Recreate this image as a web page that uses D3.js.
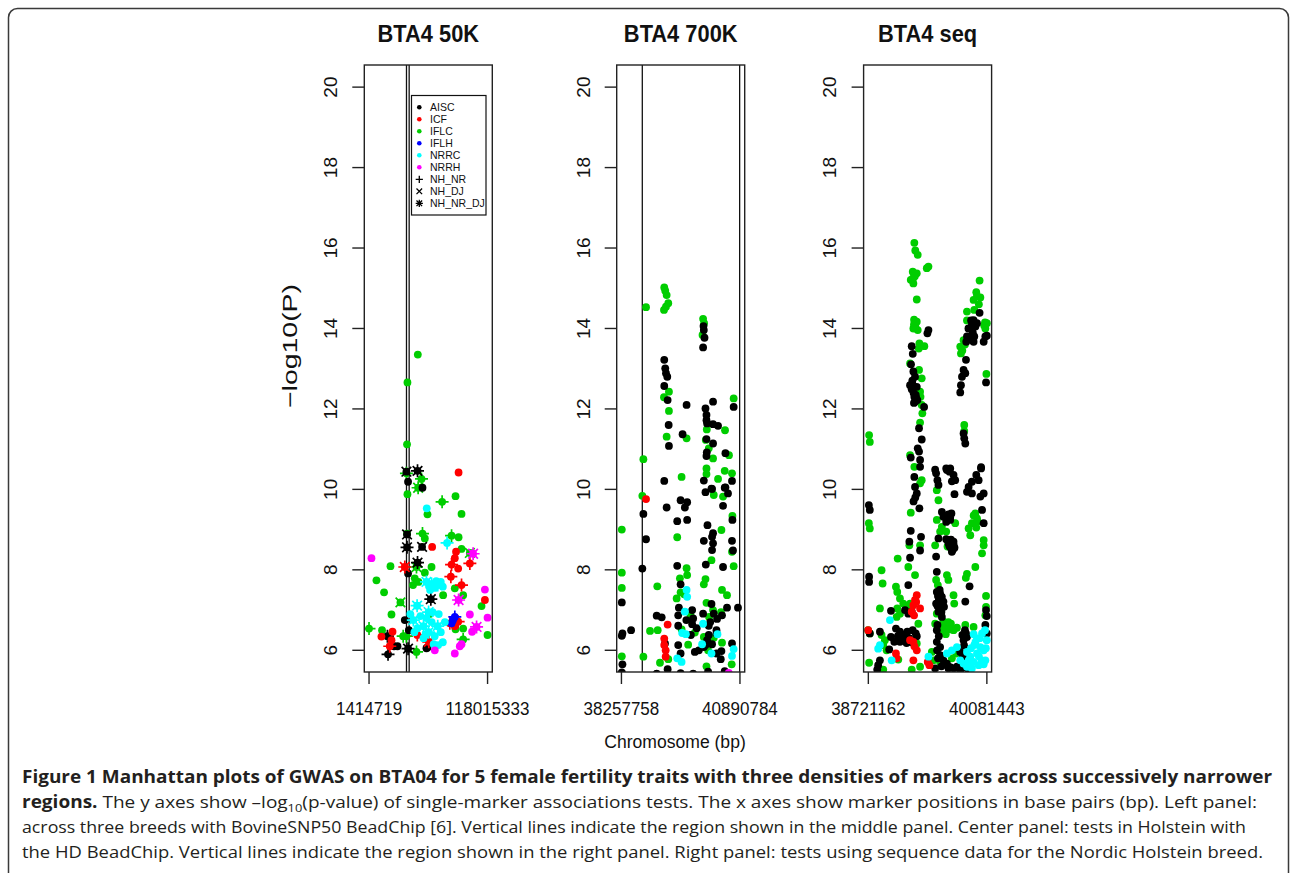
<!DOCTYPE html>
<html>
<head>
<meta charset="utf-8">
<style>
  body { margin: 0; background: white; }
  svg { display: block; }
  .rtext { font-family: "Liberation Sans", Arial, sans-serif; fill: #111; }
  .caption { font-family: "Open Sans", sans-serif; font-size: 17px; fill: #231f20; }
</style>
</head>
<body>
<div id="chart"></div>
<script src="https://d3js.org/d3.v7.min.js"></script>
<script>
var W = 1290, H = 873;

var traits = ["AISC", "ICF", "IFLC", "IFLH", "NRRC", "NRRH"];
var traitColours = ["#000000", "#ff0000", "#00cd00", "#0000ff", "#00ffff", "#ff00ff"];
var breedSets = ["NH_NR", "NH_DJ", "NH_NR_DJ"];
var breedSymbols = ["+", "x", "*"];
var drawOrder = ["IFLC", "AISC", "ICF", "IFLH", "NRRC", "NRRH"];

var panelTitles = ["BTA4 50K", "BTA4 700K", "BTA4 seq"];
var xTickLabels50k = [1414719, 118015333];
var xTickLabels700k = [38257758, 40890784];
var xTickLabelsSeq = [38721162, 40081443];
var regionLines50k = [38257758, 40890784];
var regionLines700k = [38721162, 40884000];
var yTicks = [6, 8, 10, 12, 14, 16, 18, 20];

// 50K panel: [position Mb, -log10(P), breed symbol] ("." = no breed symbol)
var p50k_AISC = [[38.2,10.44,"x"],[49.1,10.46,"*"],[39.8,10.19,"."],[54.0,10.04,"."],[38.8,8.88,"x"],[38.8,8.56,"*"],
  [53.6,8.57,"x"],[49.1,8.18,"*"],[39.8,7.91,"."],[62.2,7.27,"*"],[39.8,6.04,"*"],[19.5,6.35,"+"],[20.1,5.90,"+"],
  [29.4,6.10,"."],[58.9,6.07,"."],[40.6,6.50,"."],[36.6,6.75,"."],[26.0,6.10,"."],[57.9,6.05,"."]];
var p50k_ICF = [[89.5,10.42,"."],[63.5,8.57,"."],[85.8,8.29,"."],[36.6,8.07,"*"],[82.6,8.13,"+"],[100.6,8.16,"+"],
  [89.1,8.03,"."],[81.9,7.83,"+"],[92.4,7.62,"+"],[115.4,7.25,"."],[89.1,6.71,"+"],[13.6,6.34,"."],[24.5,6.46,"."],
  [23.5,6.25,"."],[21.8,6.10,"+"],[60.2,6.21,"*"],[48.9,6.38,"+"],[80.9,6.67,"+"],[85.8,6.60,"."],[87.0,8.45,"."]];
var p50k_IFLC = [[49.4,13.35,"."],[39.2,12.66,"."],[38.8,11.12,"."],[38.2,10.40,"+"],[53.0,10.26,"+"],[49.7,10.04,"*"],
  [39.2,9.88,"."],[86.5,9.83,"."],[73.3,9.69,"+"],[58.9,9.38,"."],[92.4,9.39,"."],[38.8,8.90,"."],[54.0,8.90,"+"],
  [56.3,8.78,"."],[82.6,8.85,"+"],[89.5,8.81,"."],[92.4,8.52,"."],[100.6,8.42,"x"],[22.5,8.09,"."],[62.9,8.07,"."],
  [48.1,8.07,"*"],[56.3,7.93,"."],[8.7,7.74,"."],[46.4,7.79,"."],[44.7,7.62,"."],[85.8,7.54,"."],[16.2,7.44,"."],
  [74.3,7.37,"."],[94.0,7.37,"."],[112.1,7.10,"."],[32.3,7.19,"x"],[23.5,6.89,"."],[94.0,6.54,"."],[118.0,6.38,"."],
  [1.4,6.54,"+"],[14.2,6.50,"."],[38.2,6.35,"+"],[48.1,5.96,"+"],[94.0,6.27,"+"],[86.5,6.52,"."],[35.0,6.35,"+"],
  [50.0,7.70,"."],[61.0,6.90,"."]];
var p50k_IFLH = [[85.8,6.83,"+"],[82.6,6.67,"."],[84.0,6.75,"."]];
var p50k_NRRC = [[58.2,9.53,"."],[78.2,8.67,"+"],[57.9,7.70,"*"],[60.5,7.60,"."],[63.0,7.65,"*"],[66.0,7.55,"."],
  [69.0,7.62,"*"],[72.0,7.70,"."],[74.0,7.58,"."],[48.7,7.11,"*"],[42.0,6.90,"."],[45.0,6.75,"*"],[49.0,6.55,"."],
  [52.0,6.85,"."],[55.0,6.60,"*"],[58.0,6.80,"."],[60.0,6.45,"*"],[63.0,6.70,"."],[66.0,6.35,"."],[69.0,6.60,"*"],
  [70.0,6.90,"."],[72.0,6.45,"."],[74.0,6.20,"."],[76.0,6.70,"."],[65.0,6.15,"."],[55.0,6.30,"."],[60.0,6.95,"*"],
  [46.0,6.45,"."],[69.4,6.13,"."],[61.5,7.50,"."],[67.5,7.72,"."],[64.0,6.95,"."],[57.0,6.40,"."]];
var p50k_NRRH = [[3.8,8.29,"."],[103.8,8.40,"*"],[89.5,7.25,"*"],[115.4,7.51,"."],[100.6,6.89,"."],[118.0,6.81,"."],
  [107.2,6.58,"*"],[102.8,6.46,"."],[66.1,6.00,"."],[85.8,5.92,"."],[90.7,6.10,"."],[92.4,6.15,"."]];

// 700K panel: [position Mb, -log10(P)]
var p700k_AISC = [[39.209,13.22],[39.231,13.01],[39.247,12.89],[39.276,12.80],[39.209,12.57],[39.284,12.22],
  [40.081,14.06],[40.088,13.96],[40.103,13.77],[40.072,13.53],[39.705,12.10],[40.293,12.18],[40.125,12.01],
  [40.147,11.85],[40.147,11.72],[40.161,11.64],[40.293,11.62],[40.404,11.58],[40.751,12.05],[39.307,11.60],
  [39.616,11.37],[39.313,11.08],[40.147,11.25],[40.293,11.14],[40.154,10.92],[40.147,10.83],[40.568,10.90],
  [39.209,10.21],[40.088,10.22],[40.714,10.21],[40.258,10.02],[40.552,10.04],[40.125,9.93],[40.271,10.01],
  [40.568,10.05],[40.625,9.90],[39.572,9.73],[39.718,9.68],[39.667,9.55],[39.262,9.55],[40.515,9.59],
  [38.745,9.39],[40.723,9.24],[39.497,9.21],[39.718,9.24],[40.169,9.11],[40.293,8.91],[40.271,8.82],
  [40.088,8.72],[40.293,8.66],[40.271,8.49],[38.804,8.76],[40.714,8.72],[40.736,8.48],[40.132,8.13],
  [39.497,8.10],[40.515,8.07],[38.722,8.03],[39.572,7.64],[38.266,7.19],[40.258,7.15],[39.534,7.06],
  [39.829,7.00],[40.847,7.06],[40.603,7.06],[39.041,6.86],[39.152,6.82],[39.519,6.87],[40.072,6.91],
  [40.309,6.91],[40.492,6.87],[39.851,6.79],[40.382,6.78],[39.829,6.65],[40.198,6.61],[38.472,6.50],
  [38.280,6.42],[38.266,6.36],[39.519,6.61],[40.369,6.50],[40.369,6.42],[39.800,6.38],[40.198,6.38],
  [39.225,6.17],[39.519,6.13],[40.125,6.13],[40.271,6.15],[40.714,6.17],[39.888,5.96],[39.977,6.00],
  [40.088,6.08],[39.572,5.92],[40.369,5.92],[40.479,5.98],[40.464,5.78],[38.280,5.65],[39.284,5.53],
  [38.266,5.45],[39.041,5.42],[39.572,5.43],[39.851,5.42],[40.183,5.47],[40.552,5.48],[40.160,6.25],
  [40.230,6.70],[39.930,6.55],[39.700,6.75]];
var p700k_ICF = [[38.804,9.76],[39.284,6.64],[39.209,6.29],[39.209,6.13],[39.240,6.00],[39.240,5.84]];
var p700k_IFLC = [[39.209,15.02],[39.231,14.94],[39.262,14.83],[39.298,14.63],[39.247,14.54],[39.203,14.46],
  [38.804,14.53],[40.072,14.24],[40.094,14.13],[40.059,13.84],[39.203,12.29],[39.313,12.43],[39.313,11.95],
  [40.751,12.26],[39.262,11.31],[39.705,11.27],[40.154,11.49],[40.132,11.23],[40.198,11.02],[40.293,10.77],
  [40.559,11.47],[40.647,10.85],[38.745,10.75],[40.147,10.52],[40.147,10.38],[40.552,10.46],[40.714,10.40],
  [39.594,10.31],[40.404,10.26],[40.309,9.86],[40.515,9.82],[38.722,9.84],[40.723,9.34],[38.266,9.00],
  [40.479,8.99],[39.497,8.81],[40.714,8.45],[40.258,8.24],[40.751,8.09],[39.705,8.04],[39.718,7.87],
  [39.557,7.79],[38.266,7.93],[40.125,7.77],[40.088,7.64],[39.054,7.59],[38.266,7.55],[40.492,7.50],
  [40.603,7.37],[39.484,7.29],[39.572,7.44],[39.652,7.39],[40.147,7.18],[40.293,7.00],[40.470,6.95],
  [39.793,6.87],[40.205,6.83],[38.893,6.48],[39.063,6.50],[39.594,6.52],[39.888,6.44],[40.088,6.33],
  [40.309,6.31],[39.740,6.14],[40.492,6.19],[40.183,6.00],[38.266,5.85],[38.745,5.84],[39.114,5.69],
  [39.298,5.78],[40.707,5.65],[40.147,5.60]];
var p700k_NRRC = [[39.705,7.50],[39.718,7.33],[40.072,6.66],[39.667,6.96],[39.607,6.43],[39.689,6.40],
  [40.391,6.40],[40.050,6.15],[40.751,6.03],[40.714,5.86],[40.258,5.92],[39.497,5.80],[39.594,5.71]];
var p700k_NRRH = [[40.641,5.44]];

// sequence panel: [position Mb, -log10(P)]
var pSeq_AISC = [[39.219,13.56],[39.231,13.37],[39.211,13.11],[39.238,12.93],[39.257,12.80],[39.200,12.59],
  [39.277,12.55],[39.219,12.49],[39.249,12.30],[39.284,12.22],[39.257,12.18],[39.361,12.05],[39.411,13.96],
  [39.399,13.88],[39.998,14.39],[39.929,14.21],[39.968,14.13],[39.910,14.09],[39.853,13.80],[39.937,13.80],
  [39.845,13.67],[39.929,13.67],[40.064,13.80],[40.045,13.67],[40.081,13.82],[39.842,13.22],[39.814,12.97],
  [39.834,12.89],[39.796,12.80],[39.784,12.59],[39.776,12.41],[40.072,12.66],[39.303,11.52],[39.334,11.24],
  [39.814,11.39],[39.822,11.27],[39.834,11.14],[39.288,11.02],[39.303,10.94],[39.208,10.79],[39.315,10.73],
  [39.315,10.56],[39.488,10.49],[39.615,10.52],[39.661,10.52],[40.015,10.52],[39.499,10.40],[39.514,10.23],
  [39.526,10.11],[39.623,10.48],[39.653,10.44],[39.699,10.36],[39.718,10.23],[39.680,10.20],[40.015,10.55],
  [39.960,10.36],[39.987,10.23],[39.910,10.19],[39.872,10.06],[39.853,9.94],[39.910,9.90],[40.045,9.90],
  [40.007,9.82],[39.249,10.31],[39.257,10.06],[39.277,9.90],[39.710,9.88],[38.727,9.61],[38.738,9.49],
  [39.307,9.53],[39.565,9.44],[39.583,9.32],[39.615,9.19],[39.661,9.24],[39.640,9.38],[40.026,9.49],
  [40.045,9.16],[39.208,8.97],[39.526,8.78],[39.615,8.76],[39.641,8.66],[39.661,8.56],[39.699,8.70],
  [39.680,8.45],[39.710,8.55],[39.192,8.70],[39.326,8.82],[39.315,8.48],[39.200,8.30],[39.499,8.33],
  [39.507,7.95],[38.730,7.83],[38.730,7.70],[39.883,7.59],[39.180,7.62],[39.507,7.45],[39.545,7.41],
  [39.565,7.33],[39.530,7.30],[39.583,7.21],[39.499,7.16],[39.553,7.08],[39.590,7.08],[39.834,7.21],
  [38.981,6.98],[39.142,7.00],[39.180,6.91],[39.219,6.96],[39.526,6.96],[39.565,6.83],[40.072,7.00],
  [40.080,6.85],[39.514,6.63],[39.507,6.50],[40.064,6.63],[40.080,6.42],[38.854,6.46],[39.038,6.54],
  [39.084,6.46],[39.168,6.46],[39.265,6.42],[39.277,6.35],[38.981,6.33],[39.019,6.21],[39.084,6.21],
  [39.142,6.25],[39.219,6.20],[39.842,6.42],[39.853,6.33],[39.814,6.25],[39.507,6.21],[39.545,6.08],
  [38.961,6.02],[39.776,5.96],[39.807,5.84],[39.545,5.88],[39.583,5.75],[39.623,5.67],[38.854,5.75],
  [38.834,5.63],[38.823,5.52],[39.488,5.55],[39.641,5.55],[39.738,5.59],[39.776,5.50],[38.738,6.42],
  [39.226,12.70],[39.240,12.40],[39.265,12.35],[39.231,12.60],[39.245,12.15],[39.270,12.28],
  [39.520,7.35],[39.530,7.22],[39.540,7.50],[39.515,7.10],[39.550,7.25],[39.560,6.95],
  [39.650,8.60],[39.670,8.75],[39.690,8.50],[39.660,9.30],[39.675,9.40],[39.700,8.62],
  [39.870,14.00],[39.890,13.75],[39.920,13.90],[39.950,14.05],[39.900,14.20],
  [39.100,6.30],[39.125,6.38],[39.160,6.18],[39.190,6.30],[39.060,6.35],[39.230,6.50],
  [39.510,6.00],[39.520,5.80],[39.530,6.35],[39.560,5.60],[39.600,5.65],[39.660,5.58],[39.700,5.55],
  [39.820,6.12],[39.830,6.50],[39.800,6.38],[39.855,5.55],[39.240,9.70],[39.260,9.80]];
var pSeq_ICF = [[38.719,6.50],[39.277,7.37],[39.257,7.25],[39.238,7.12],[39.315,7.04],[39.219,6.96],[39.246,6.87],
  [39.238,6.21],[39.277,6.00],[39.200,6.25],[39.038,5.92],[39.046,5.80],[39.238,5.75],[39.403,5.71],[39.422,5.63],
  [39.270,7.20],[39.250,6.10]];
var pSeq_IFLC = [[39.249,16.13],[39.260,15.94],[39.288,15.83],[39.392,15.50],[39.411,15.54],[39.231,15.41],
  [39.277,15.37],[39.208,15.21],[39.238,15.12],[39.277,14.72],[39.998,15.19],[39.968,14.81],[40.007,14.77],
  [39.929,14.71],[39.937,14.46],[39.853,14.42],[39.246,14.22],[39.277,14.17],[39.238,14.00],[39.288,13.96],
  [39.853,14.20],[40.081,14.13],[40.064,14.00],[40.050,14.08],[39.307,13.63],[39.364,13.56],[39.814,13.71],
  [39.776,13.55],[39.784,13.38],[39.200,13.13],[39.303,12.97],[39.334,12.76],[40.076,12.87],[39.315,12.43],
  [39.334,12.10],[39.341,11.89],[39.315,11.66],[38.730,11.35],[38.738,11.18],[39.822,11.60],[39.822,11.45],
  [39.249,10.56],[39.200,10.85],[39.334,10.23],[39.315,10.15],[39.507,9.98],[39.526,9.73],[38.727,9.16],
  [38.738,9.03],[39.208,9.42],[39.507,9.24],[39.565,9.07],[39.615,8.95],[39.545,8.95],[39.718,9.16],
  [39.949,9.40],[39.968,9.28],[39.910,9.16],[39.872,9.03],[39.891,8.86],[39.975,9.20],[40.045,8.74],
  [40.045,8.61],[40.026,8.41],[39.192,8.61],[39.315,8.61],[39.058,8.28],[39.488,8.61],[39.630,8.58],
  [38.873,7.99],[39.180,8.07],[39.257,7.87],[38.885,7.66],[39.038,7.58],[39.053,7.45],[39.084,7.29],
  [39.499,7.75],[39.519,7.62],[39.623,7.87],[39.640,7.75],[39.949,8.07],[39.853,7.90],[39.840,7.80],
  [39.699,7.37],[39.707,7.16],[40.072,7.35],[40.072,7.08],[40.064,6.87],[38.854,7.04],[39.053,7.04],
  [39.084,6.91],[39.122,7.16],[39.046,6.83],[39.173,7.04],[39.200,7.16],[39.507,6.91],[39.488,6.66],
  [39.583,6.71],[39.623,6.63],[39.669,6.66],[39.699,6.50],[39.738,6.56],[39.545,6.50],[39.600,6.45],
  [38.719,6.50],[38.738,6.42],[38.873,6.38],[38.911,6.25],[38.892,6.13],[38.931,6.00],[39.295,6.66],
  [39.277,6.17],[38.730,5.69],[39.834,6.63],[39.929,6.58],[39.450,5.96],[39.468,5.75],[39.545,5.70],
  [39.730,5.92],[39.680,5.80],[39.219,5.52],[39.315,5.59],[39.065,5.77],[38.892,5.52],
  [39.235,15.25],[39.255,15.30],[39.245,14.10],[39.260,14.05],[39.300,13.50],[39.320,12.30],
  [39.560,6.60],[39.590,6.55],[39.640,6.70],[39.660,6.52],[39.610,6.40],[39.530,6.55],
  [39.830,13.60],[39.800,13.45],[39.990,14.60],[39.960,14.90],[40.060,14.15],[39.930,9.35],[39.960,9.05]];
var pSeq_NRRC = [[38.969,6.75],[38.854,6.13],[38.834,6.04],[38.989,5.75],[39.411,5.84],[39.853,5.96],[39.891,5.84],
  [39.929,5.71],[39.968,5.92],[40.007,6.08],[40.045,6.00],[39.910,5.55],[39.987,5.63],[40.064,5.75],[40.080,6.25],
  [40.026,6.42],[39.968,6.29],[39.937,6.13],[39.872,5.75],[40.045,5.65],[39.853,5.59],[39.776,5.75],[39.814,5.67],
  [39.680,6.00],[39.738,6.08],[39.623,5.92],[39.930,6.40],[40.060,6.50],[39.990,5.85],[39.950,6.20],
  [39.900,6.05],[40.020,5.75],[40.070,6.05],[39.880,5.60],[40.000,6.30]];

var captionLines = [
  "Figure 1 Manhattan plots of GWAS on BTA04 for 5 female fertility traits with three densities of markers across successively narrower",
  "The y axes show \u2013log",
  "(p-value) of single-marker associations tests. The x axes show marker positions in base pairs (bp). Left panel:",
  "across three breeds with BovineSNP50 BeadChip [6]. Vertical lines indicate the region shown in the middle panel. Center panel: tests in Holstein with",
  "the HD BeadChip. Vertical lines indicate the region shown in the right panel. Right panel: tests using sequence data for the Nordic Holstein breed."
];

// ---- layout ----
var boxTop = 65, boxBottom = 672, boxW = 128;
var panelLefts = [364.3, 616.7, 863.6];

var panels = [
  {title: panelTitles[0], ticks: xTickLabels50k, lines: regionLines50k,
   series: {AISC: p50k_AISC, ICF: p50k_ICF, IFLC: p50k_IFLC, IFLH: p50k_IFLH, NRRC: p50k_NRRC, NRRH: p50k_NRRH}},
  {title: panelTitles[1], ticks: xTickLabels700k, lines: regionLines700k,
   series: {AISC: p700k_AISC, ICF: p700k_ICF, IFLC: p700k_IFLC, NRRC: p700k_NRRC, NRRH: p700k_NRRH}},
  {title: panelTitles[2], ticks: xTickLabelsSeq, lines: [],
   series: {AISC: pSeq_AISC, ICF: pSeq_ICF, IFLC: pSeq_IFLC, NRRC: pSeq_NRRC}}
];

var svg = d3.select("#chart").append("svg").attr("width", W).attr("height", H);

// outer figure frame
svg.append("rect").attr("x", 8.5).attr("y", 8.5).attr("width", 1280).attr("height", 920)
  .attr("rx", 9).attr("fill", "none").attr("stroke", "#3a3a3a").attr("stroke-width", 1.5);

var y = d3.scaleLinear().domain([5.46, 20.55]).range([boxBottom, boxTop]);
var colourOf = d3.scaleOrdinal().domain(traits).range(traitColours);

function symbolPath(s, a, b) {
  if (s == "+") return "M" + (-a) + ",0H" + a + "M0," + (-a) + "V" + a;
  if (s == "x") return "M" + (-b) + "," + (-b) + "L" + b + "," + b + "M" + (-b) + "," + b + "L" + b + "," + (-b);
  if (s == "*") return symbolPath("+", a, b) + symbolPath("x", a, b);
  return "";
}

panels.forEach((p, i) => {
  var left = panelLefts[i];
  var lo = p.ticks[0] / 1e6, hi = p.ticks[1] / 1e6, pad = (hi - lo) * 0.04;
  var x = d3.scaleLinear().domain([lo - pad, hi + pad]).range([left, left + boxW]);
  var g = svg.append("g");

  svg.append("clipPath").attr("id", "clip" + i).append("rect")
    .attr("x", left).attr("y", boxTop).attr("width", boxW).attr("height", boxBottom - boxTop);
  var plot = g.append("g").attr("clip-path", "url(#clip" + i + ")");

  // region lines
  plot.selectAll("line.region").data(p.lines).enter().append("line")
    .attr("x1", d => x(d / 1e6)).attr("x2", d => x(d / 1e6))
    .attr("y1", boxTop).attr("y2", boxBottom)
    .attr("stroke", "#111").attr("stroke-width", 1.3);

  drawOrder.forEach(t => {
    var pts = p.series[t];
    if (!pts) return;
    var c = colourOf(t);
    plot.selectAll(null).data(pts).enter().append("circle")
      .attr("cx", d => x(d[0])).attr("cy", d => y(d[1]))
      .attr("r", 3.9).attr("fill", c);
    plot.selectAll(null).data(pts.filter(d => d[2] && d[2] != ".")).enter().append("path")
      .attr("transform", d => "translate(" + x(d[0]) + "," + y(d[1]) + ")")
      .attr("d", d => symbolPath(d[2], 6.5, 4.8))
      .attr("stroke", c).attr("stroke-width", 1.7).attr("fill", "none");
  });

  // box
  g.append("rect").attr("x", left).attr("y", boxTop).attr("width", boxW).attr("height", boxBottom - boxTop)
    .attr("fill", "none").attr("stroke", "#222").attr("stroke-width", 1.4);

  // y axis
  var ya = g.append("g");
  ya.selectAll("line").data(yTicks).enter().append("line")
    .attr("x1", left - 12).attr("x2", left).attr("y1", d => y(d)).attr("y2", d => y(d))
    .attr("stroke", "#222").attr("stroke-width", 1.4);
  ya.selectAll("text").data(yTicks).enter().append("text")
    .attr("class", "rtext").attr("font-size", 19).attr("text-anchor", "middle")
    .attr("transform", d => "translate(" + (left - 34) + "," + y(d) + ") rotate(-90)")
    .attr("dy", "0.36em").text(d => d);

  // x axis
  var xa = g.append("g");
  xa.selectAll("line").data(p.ticks).enter().append("line")
    .attr("x1", d => x(d / 1e6)).attr("x2", d => x(d / 1e6)).attr("y1", boxBottom).attr("y2", boxBottom + 12)
    .attr("stroke", "#222").attr("stroke-width", 1.4);
  xa.selectAll("text").data(p.ticks).enter().append("text")
    .attr("class", "rtext").attr("font-size", 18.5).attr("text-anchor", "middle")
    .attr("transform", d => "translate(" + x(d / 1e6) + ",715) scale(0.92,1)")
    .text(d => d);

  // title
  g.append("text").attr("class", "rtext").attr("font-size", 23).attr("font-weight", "bold")
    .attr("text-anchor", "middle")
    .attr("transform", "translate(" + (left + boxW / 2) + ",42) scale(0.95,1)")
    .text(p.title);
});

// axis titles
svg.append("text").attr("class", "rtext").attr("font-size", 21).attr("text-anchor", "middle")
  .attr("transform", "translate(289,346) rotate(-90)").attr("dy", "0.36em")
  .attr("textLength", 124).attr("lengthAdjust", "spacingAndGlyphs")
  .text("\u2212log10(P)");
svg.append("text").attr("class", "rtext").attr("font-size", 18.5).attr("text-anchor", "middle")
  .attr("transform", "translate(675,748) scale(0.95,1)")
  .text("Chromosome (bp)");

// legend
var legendItems = traits.map((t, i) => ({label: t, colour: traitColours[i], sym: "."}))
  .concat(breedSets.map((b, i) => ({label: b, colour: "#000", sym: breedSymbols[i]})));
var lg = svg.append("g");
lg.append("rect").attr("x", 411.5).attr("y", 95.5).attr("width", 74.5).attr("height", 119.5)
  .attr("fill", "white").attr("stroke", "#111").attr("stroke-width", 1.2);
var li = lg.selectAll("g.item").data(legendItems).enter().append("g")
  .attr("transform", (d, i) => "translate(419.3," + (107.3 + i * 12) + ")");
li.filter(d => d.sym == ".").append("circle").attr("r", 2.3).attr("fill", d => d.colour);
li.filter(d => d.sym != ".").append("path").attr("d", d => symbolPath(d.sym, 3.6, 2.8))
  .attr("stroke", "#000").attr("stroke-width", 1.3).attr("fill", "none");
li.append("text").attr("class", "rtext").attr("font-size", 10.5).attr("x", 10.7).attr("dy", "0.36em")
  .text(d => d.label);

// caption
var cap = svg.append("g").attr("class", "caption");
cap.append("text").attr("x", 22).attr("y", 783).attr("font-weight", "bold")
  .attr("textLength", 1250).attr("lengthAdjust", "spacingAndGlyphs").text(captionLines[0]);
var l2 = cap.append("text").attr("x", 22).attr("y", 808)
  .attr("textLength", 1235).attr("lengthAdjust", "spacingAndGlyphs");
l2.append("tspan").attr("font-weight", "bold").text("regions. ");
l2.append("tspan").text(captionLines[1]);
l2.append("tspan").attr("font-size", 11.5).attr("dy", 4).text("10");
l2.append("tspan").attr("dy", -4).text(captionLines[2]);
cap.append("text").attr("x", 22).attr("y", 833)
  .attr("textLength", 1224).attr("lengthAdjust", "spacingAndGlyphs").text(captionLines[3]);
cap.append("text").attr("x", 22).attr("y", 858)
  .attr("textLength", 1241).attr("lengthAdjust", "spacingAndGlyphs").text(captionLines[4]);
</script>
</body>
</html>
